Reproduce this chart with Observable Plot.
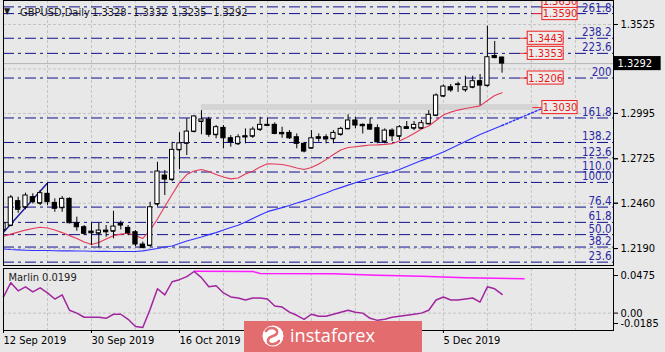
<!DOCTYPE html>
<html><head><meta charset="utf-8">
<script src="https://cdn.jsdelivr.net/npm/d3@7"></script>
<script src="https://cdn.jsdelivr.net/npm/@observablehq/plot@0.6"></script>
<style>
html,body{margin:0;padding:0;background:#e8e8e8;}
#wrap{position:relative;width:665px;height:352px;overflow:hidden;background:#e8e8e8;
 font-family:"DejaVu Sans Condensed","Liberation Sans",sans-serif;font-size:11px;color:#000;}
#main,#ind{position:absolute;left:0;}
#main{top:0}
#ind{top:267px}
.hdr{position:absolute;top:6px;line-height:13px;white-space:nowrap;color:#1a1a1a;}
#banner{position:absolute;left:244px;top:321px;width:178px;height:31px;background:#e26c6e;}
</style></head>
<body>
<div id="wrap">
 <div id="main"></div>
 <div id="ind"></div>
 <div class="hdr" style="left:4px;top:5px;font-size:9px;">&#9660;</div>
 <div class="hdr" id="sym" style="left:20px"></div>
 <div class="hdr" id="v0" style="left:92px"></div>
 <div class="hdr" id="v1" style="left:133px"></div>
 <div class="hdr" id="v2" style="left:172px"></div>
 <div class="hdr" id="v3" style="left:213px"></div>
 <div id="banner"><svg width="178" height="31">
   <circle cx="29" cy="15" r="10.5" fill="#fff"/>
   <path d="M22,10 C26,5 34,7 33,12 C32,16 25,14 24,19 C23,24 31,25 35,20" fill="none" stroke="#e26c6e" stroke-width="2.6" stroke-linecap="round"/>
   <text x="46" y="21" fill="#fff" font-family="Open Sans, Lato, sans-serif" font-size="19" textLength="85" lengthAdjust="spacingAndGlyphs">instaforex</text>
 </svg></div>
</div>
<script>
// ---------- data ----------
const symbol = "GBPUSD,Daily";
const headerValues = [1.3328, 1.3332, 1.3235, 1.3292];

const open = [1.2300,1.2327,1.2472,1.2436,1.2496,1.2460,1.2516,1.2462,1.2433,1.2486,
1.2341,1.2317,1.2291,1.2281,1.2297,1.2293,1.2337,1.2313,1.2287,1.2214,
1.2208,1.2455,1.2625,1.2601,1.2778,1.2817,1.2887,1.2947,1.2959,1.2868,
1.2909,1.2847,1.2814,1.2859,1.2859,1.2899,1.2927,1.2927,1.2879,1.2879,
1.2853,1.2814,1.2788,1.2853,1.2853,1.2844,1.2870,1.2903,1.2953,1.2927,
1.2927,1.2907,1.2828,1.2893,1.2859,1.2913,1.2907,1.2907,1.2933,1.2983,
1.3098,1.3151,1.3168,1.3136,1.3151,1.3187,1.3161,1.3337,1.3328];
const high = [1.2365,1.2506,1.2496,1.2520,1.2516,1.2536,1.2580,1.2486,1.2500,1.2492,
1.2377,1.2327,1.2341,1.2341,1.2327,1.2412,1.2353,1.2327,1.2297,1.2228,
1.2466,1.2704,1.2655,1.2823,1.2880,1.2963,1.2983,1.3012,1.2972,1.2923,
1.2923,1.2863,1.2868,1.2903,1.2913,1.2972,1.2966,1.2939,1.2913,1.2893,
1.2873,1.2823,1.2893,1.2873,1.2868,1.2893,1.2913,1.2987,1.2972,1.2933,
1.2966,1.2927,1.2903,1.2903,1.2923,1.2947,1.2947,1.2953,1.3012,1.3112,
1.3165,1.3167,1.3181,1.3217,1.3217,1.3227,1.3515,1.3424,1.3332];
const low = [1.2287,1.2321,1.2400,1.2421,1.2456,1.2446,1.2446,1.2406,1.2406,1.2337,
1.2293,1.2267,1.2208,1.2194,1.2257,1.2248,1.2301,1.2267,1.2202,1.2188,
1.2198,1.2438,1.2506,1.2589,1.2660,1.2744,1.2880,1.2868,1.2853,1.2844,
1.2784,1.2794,1.2804,1.2814,1.2847,1.2887,1.2919,1.2868,1.2847,1.2840,
1.2784,1.2760,1.2784,1.2824,1.2814,1.2814,1.2859,1.2899,1.2903,1.2873,
1.2893,1.2814,1.2814,1.2828,1.2834,1.2899,1.2893,1.2899,1.2927,1.2979,
1.3092,1.3121,1.3121,1.3121,1.3142,1.3042,1.3152,1.3320,1.3235];
const close = [1.2340,1.2494,1.2421,1.2506,1.2466,1.2520,1.2466,1.2427,1.2486,1.2341,
1.2317,1.2278,1.2281,1.2297,1.2287,1.2321,1.2327,1.2281,1.2214,1.2194,
1.2436,1.2649,1.2601,1.2778,1.2817,1.2887,1.2977,1.2959,1.2868,1.2913,
1.2847,1.2823,1.2853,1.2852,1.2899,1.2927,1.2921,1.2873,1.2871,1.2847,
1.2814,1.2768,1.2847,1.2844,1.2840,1.2879,1.2903,1.2953,1.2923,1.2919,
1.2899,1.2823,1.2893,1.2859,1.2913,1.2903,1.2927,1.2937,1.2987,1.3102,
1.3155,1.3132,1.3164,1.3151,1.3187,1.3161,1.3330,1.3325,1.3292];

const redMA = [1.2264,1.2276,1.2288,1.2300,1.2309,1.2317,1.2312,1.2300,1.2285,1.2267,
1.2250,1.2229,1.2214,1.2226,1.2247,1.2267,1.2276,1.2281,1.2267,1.2250,
1.2300,1.2366,1.2440,1.2512,1.2583,1.2631,1.2652,1.2661,1.2649,1.2631,
1.2616,1.2605,1.2610,1.2634,1.2651,1.2676,1.2695,1.2694,1.2691,1.2682,
1.2670,1.2661,1.2673,1.2694,1.2720,1.2750,1.2777,1.2792,1.2797,1.2802,
1.2807,1.2808,1.2811,1.2815,1.2831,1.2852,1.2875,1.2902,1.2920,1.2953,
1.2986,1.3003,1.3015,1.3024,1.3032,1.3040,1.3072,1.3102,1.3118];
const blueMA = [1.2187,1.2184,1.2182,1.2180,1.2178,1.2178,1.2178,1.2177,1.2176,1.2176,
1.2175,1.2175,1.2174,1.2173,1.2173,1.2172,1.2172,1.2172,1.2172,1.2176,
1.2183,1.2190,1.2199,1.2205,1.2220,1.2235,1.2247,1.2259,1.2273,1.2285,
1.2300,1.2315,1.2329,1.2348,1.2369,1.2390,1.2410,1.2422,1.2434,1.2446,
1.2461,1.2474,1.2488,1.2506,1.2521,1.2539,1.2553,1.2568,1.2582,1.2595,
1.2607,1.2621,1.2634,1.2646,1.2661,1.2679,1.2697,1.2714,1.2729,1.2747,
1.2766,1.2786,1.2807,1.2828,1.2849,1.2869,1.2887,1.2905,1.2923];
const blueExtension = [[68,1.2923],[73.5,1.3025]];
const trendLine = [[0,1.2287],[6,1.2580]];

const marlin = [0.0172,0.0324,0.0237,0.0280,0.0226,0.0269,0.0215,0.0150,0.0194,0.0031,
0.0000,-0.0044,-0.0044,-0.0044,-0.0055,-0.0012,-0.0012,-0.0066,-0.0142,-0.0153,
0.0042,0.0259,0.0194,0.0334,0.0356,0.0388,0.0443,0.0378,0.0280,0.0291,
0.0215,0.0172,0.0161,0.0140,0.0161,0.0161,0.0150,0.0075,0.0064,0.0010,
-0.0023,-0.0066,-0.0012,-0.0034,-0.0034,-0.0012,0.0010,0.0031,0.0010,0.0000,
-0.0055,-0.0077,-0.0066,-0.0044,-0.0034,-0.0023,-0.0012,0.0000,0.0031,0.0140,
0.0172,0.0140,0.0140,0.0150,0.0161,0.0118,0.0280,0.0259,0.0199];
const marlinSignal = [[26,0.0446],[34,0.0444],[35,0.0422],[45,0.0419],[51,0.0404],[57,0.0393],[63,0.0376],[71,0.0367]];

const fibLabels = ["261.8","238.2","223.6","200","161.8","138.2","123.6","110.0","100.0","76.4","61.8","50.0","38.2","23.6"];
const fibPrices = [1.3590,1.3443,1.3353,1.3206,1.2968,1.2822,1.2731,1.2646,1.2584,1.2437,1.2346,1.2273,1.2199,1.2109];
const extraLevel = 1.3630;
const redNear = [1.3443, 1.3353, 1.3206];
const redFar = [1.3590, 1.3030];
const redTop = [1.3630];
const zoneLow = 1.3012, zoneHigh = 1.3048, zoneFrom = 27, zoneTo = 73;
const priceGrid = [1.3525, 1.3260, 1.2995, 1.2725, 1.2460, 1.2190];
const priceLabels = [1.3525, 1.2995, 1.2725, 1.2460, 1.2190];
const lastPrice = 1.3292;
const dateTickBars = [0, 12, 24, 60];
const dateLabels = ["12 Sep 2019","30 Sep 2019","16 Oct 2019","5 Dec 2019"];
const gridBars = [6,12,18,24,30,36,42,48,54,60,66,72,78];
const marlinTicks = [0.0475, 0.00, -0.0185];

// ---------- header ----------
document.getElementById("sym").textContent = symbol;
headerValues.forEach((v,i)=>document.getElementById("v"+i).textContent = v.toFixed(4));

// ---------- build ----------
const candles = open.map((o,i)=>({i, o, h: high[i], l: low[i], c: close[i]}));
const xDomain = [0, 83.2];
const font = '"DejaVu Sans Condensed","Liberation Sans",sans-serif';
const st = {background:"transparent", fontFamily: font, fontSize:"11px", color:"#000", overflow:"visible"};
const grid = {stroke:"#c3c3c3", strokeDasharray:"3,2"};
const fibStyle = {stroke:"#10108c", strokeDasharray:"11,4,3,4"};
const halfBox = 0.0039;

const main = Plot.plot({
  width: 665, height: 267,
  marginLeft: 3, marginRight: 52, marginTop: 0, marginBottom: 2,
  x: {domain: xDomain, axis: null},
  y: {domain: [1.2089, 1.3668], axis: null},
  style: st,
  marks: [
    Plot.ruleX(gridBars, grid),
    Plot.ruleY(priceGrid, grid),
    Plot.rect([0], {x1: ()=>zoneFrom, x2: ()=>zoneTo, y1: ()=>zoneLow, y2: ()=>zoneHigh, fill:"#d4d4d4"}),
    Plot.ruleY(fibPrices.concat([extraLevel]), fibStyle),
    Plot.ruleY([lastPrice], {stroke:"#b5b5b5"}),
    Plot.line(blueMA, {x:(d,i)=>i, y:d=>d, stroke:"#3333ff", strokeWidth:1.1}),
    Plot.line(blueExtension, {x:d=>d[0], y:d=>d[1], stroke:"#3333ff", strokeDasharray:"2,2"}),
    Plot.line(redMA, {x:(d,i)=>i, y:d=>d, stroke:"#e43a5a", strokeWidth:1.1}),
    Plot.line(trendLine, {x:d=>d[0], y:d=>d[1], stroke:"#1c1c9c", clip:true}),
    Plot.ruleX(candles, {x:"i", y1:"l", y2:"h", stroke:"#000", clip:true}),
    Plot.rect(candles, {x1:d=>d.i-0.29, x2:d=>d.i+0.29, y1:"o", y2:"c",
      fill:d=>d.c>=d.o?"#fff":"#000", stroke:"#000", clip:true}),
    Plot.ruleY(candles, {x1:d=>d.i-0.29, x2:d=>d.i+0.29, y:"o", stroke:"#000", clip:true}),
    // red level labels
    Plot.ruleY(redNear, {x1:()=>70.5, x2:()=>71.5, y:d=>d, stroke:"#f03030"}),
    Plot.ruleY(redFar, {x1:()=>72.2, x2:()=>73.5, y:d=>d, stroke:"#f03030"}),
    Plot.rect(redNear, {x1:()=>71.5, x2:()=>76.4, y1:d=>d-halfBox, y2:d=>d+halfBox, fill:"#ececec", stroke:"#f02020"}),
    Plot.rect(redFar, {x1:()=>73.5, x2:()=>78.3, y1:d=>d-halfBox, y2:d=>d+halfBox, fill:"#ececec", stroke:"#f02020"}),
    Plot.rect(redTop, {x1:()=>73.5, x2:()=>78.3, y1:d=>d+0.0033-halfBox, y2:d=>d+0.0033+halfBox, fill:"#ececec", stroke:"#f02020"}),
    Plot.text(redNear, {x:()=>73.95, y:d=>d, text:d=>d.toFixed(4), fill:"#e81818"}),
    Plot.text(redFar, {x:()=>75.9, y:d=>d, text:d=>d.toFixed(4), fill:"#e81818"}),
    Plot.text(redTop, {x:()=>75.9, y:d=>d+0.0033, text:d=>d.toFixed(4), fill:"#e81818"}),
    // fib labels
    Plot.text(fibPrices, {x:()=>83.2, y:d=>d, text:(d,i)=>fibLabels[i], textAnchor:"end", lineAnchor:"bottom", dx:-2, dy:-2, fill:"#2a2aa6", fontSize:11.5}),
    Plot.frame({stroke:"#000"}),
    Plot.axisY(priceGrid, {anchor:"right", tickFormat:null, tickSize:4, tickPadding:3, text:null}),
    Plot.axisY(priceLabels, {anchor:"right", tickFormat:d=>d.toFixed(4), tickSize:4, tickPadding:3, fontSize:11}),
    // current price tag
    Plot.rect([lastPrice], {x1:()=>83.3, x2:()=>89.7, y1:d=>d-0.0042, y2:d=>d+0.0042, fill:"#000"}),
    Plot.text([lastPrice], {x:()=>83.75, y:d=>d, text:d=>d.toFixed(4), textAnchor:"start", fill:"#fff", fontSize:11})
  ]
});
document.getElementById("main").appendChild(main);

const ind = Plot.plot({
  width: 665, height: 85,
  marginLeft: 3, marginRight: 52, marginTop: 1, marginBottom: 22,
  x: {domain: xDomain, axis: null},
  y: {domain: [-0.0185, 0.0475], axis: null},
  style: st,
  marks: [
    Plot.ruleX(gridBars, grid),
    Plot.ruleY([0], grid),
    Plot.line(marlinSignal, {x:d=>d[0], y:d=>d[1], stroke:"#ff1aff"}),
    Plot.line(marlin, {x:(d,i)=>i, y:d=>d, stroke:"#a0259f"}),
    Plot.frame({stroke:"#000"}),
    Plot.axisY([marlinTicks[1]], {anchor:"right", tickFormat:d=>d.toFixed(2), tickSize:4, tickPadding:3}),
    Plot.axisY([marlinTicks[0]], {anchor:"right", tickFormat:d=>d.toFixed(4), tickSize:4, tickPadding:3, dy:7}),
    Plot.axisY([marlinTicks[2]], {anchor:"right", tickFormat:d=>d.toFixed(4), tickSize:4, tickPadding:3, dy:-7}),
    Plot.axisX(dateTickBars, {anchor:"bottom", tickFormat:d=>dateLabels[dateTickBars.indexOf(d)], tickSize:3, tickPadding:3, textAnchor:"start", fontSize:11}),
    Plot.text(["Marlin " + marlin[marlin.length-1].toFixed(4)], {frameAnchor:"top-left", text:d=>d, dx:5, dy:5, textAnchor:"start", lineAnchor:"top", fill:"#222"})
  ]
});
document.getElementById("ind").appendChild(ind);
</script>
</body></html>
